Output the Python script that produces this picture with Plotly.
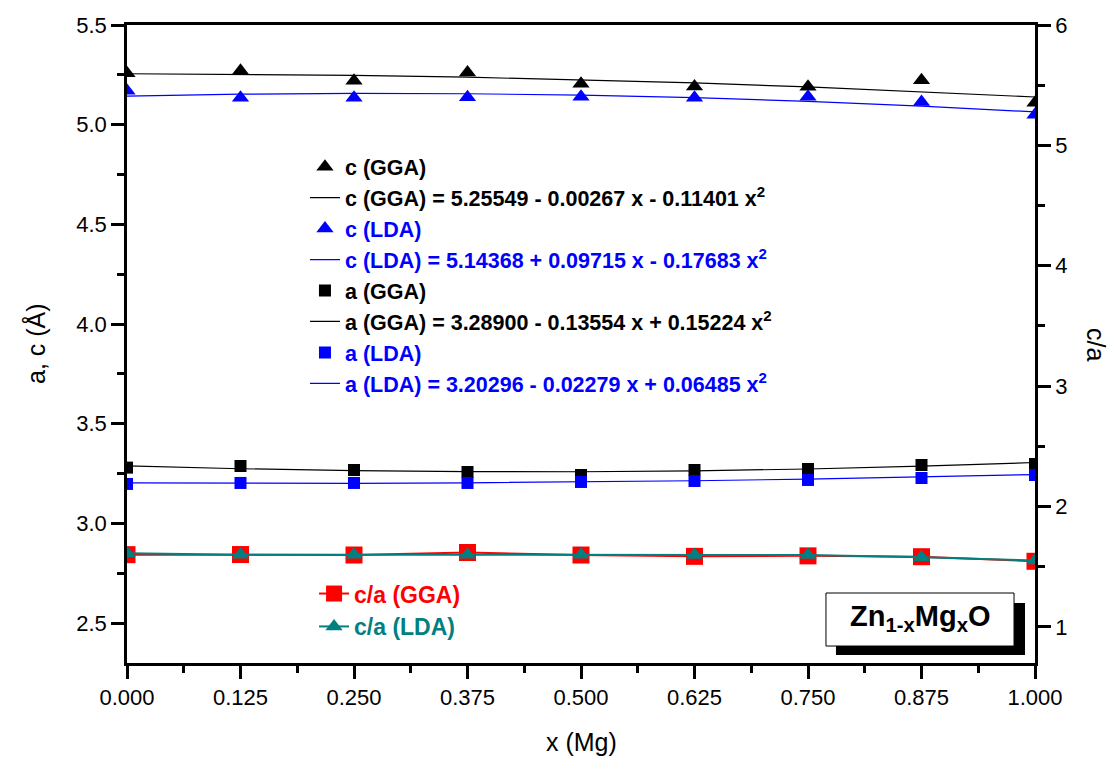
import plotly.graph_objects as go

FONT = "Arial, Liberation Sans, sans-serif"

x_mg = [0.0, 0.125, 0.25, 0.375, 0.5, 0.625, 0.75, 0.875, 1.0]
x_ticks = [0.0, 0.125, 0.25, 0.375, 0.5, 0.625, 0.75, 0.875, 1.0]
x_ticklabels = ["0.000", "0.125", "0.250", "0.375", "0.500", "0.625", "0.750", "0.875", "1.000"]

c_gga = [5.258, 5.270, 5.220, 5.262, 5.205, 5.192, 5.190, 5.223, 5.110]
c_lda = [5.170, 5.135, 5.135, 5.137, 5.140, 5.135, 5.140, 5.114, 5.050]
a_gga = [3.280, 3.288, 3.268, 3.258, 3.243, 3.268, 3.273, 3.293, 3.298]
a_lda = [3.198, 3.203, 3.203, 3.203, 3.208, 3.213, 3.218, 3.228, 3.243]

# quadratic fit curves (values of the fits printed in the legend)
c_gga_fit = [5.2555, 5.2534, 5.2477, 5.2385, 5.2257, 5.2093, 5.1894, 5.1659, 5.1388]
c_lda_fit = [5.1437, 5.1531, 5.1569, 5.1552, 5.1481, 5.1353, 5.1171, 5.0933, 5.0640]
a_gga_fit = [3.2890, 3.2744, 3.2646, 3.2596, 3.2593, 3.2638, 3.2730, 3.2870, 3.3057]
a_lda_fit = [3.2030, 3.2011, 3.2013, 3.2036, 3.2078, 3.2141, 3.2224, 3.2327, 3.2451]

ca_gga = [1.600, 1.601, 1.597, 1.618, 1.597, 1.586, 1.590, 1.583, 1.545]
ca_lda = [1.612, 1.600, 1.600, 1.600, 1.600, 1.597, 1.597, 1.578, 1.552]

BLUE = "#0000FF"
RED = "#FF0000"
TEAL = "#008080"

fig = go.Figure()

def mk(name, y, symbol, color, size, group):
    return go.Scatter(x=x_mg, y=y, mode="markers", name=name, legendgroup=group,
                      marker=dict(symbol=symbol, color=color, size=size, line=dict(width=0)))

def fit(name, y, color, group):
    return go.Scatter(x=x_mg, y=y, mode="lines", name=name, legendgroup=group,
                      line=dict(color=color, width=1.2))

fig.add_trace(fit("c (GGA) = 5.25549 - 0.00267 x - 0.11401 x<sup>2</sup>", c_gga_fit, "black", "g2"))
fig.add_trace(fit("<span style='color:#0000FF'>c (LDA) = 5.14368 + 0.09715 x - 0.17683 x<sup>2</sup></span>", c_lda_fit, BLUE, "g4"))
fig.add_trace(fit("a (GGA) = 3.28900 - 0.13554 x + 0.15224 x<sup>2</sup>", a_gga_fit, "black", "g6"))
fig.add_trace(fit("<span style='color:#0000FF'>a (LDA) = 3.20296 - 0.02279 x + 0.06485 x<sup>2</sup></span>", a_lda_fit, BLUE, "g8"))
fig.add_trace(mk("c (GGA)", c_gga, "triangle-up", "black", 15, "g1"))
fig.add_trace(mk("<span style='color:#0000FF'>c (LDA)</span>", c_lda, "triangle-up", BLUE, 15, "g3"))
fig.add_trace(mk("a (GGA)", a_gga, "square", "black", 12, "g5"))
fig.add_trace(mk("<span style='color:#0000FF'>a (LDA)</span>", a_lda, "square", BLUE, 12, "g7"))

fig.add_trace(go.Scatter(x=x_mg, y=ca_gga, mode="lines+markers", yaxis="y2", legend="legend2",
                         name="<span style='color:#FF0000'>c/a (GGA)</span>", legendgroup="h1",
                         line=dict(color=RED, width=2),
                         marker=dict(symbol="square", color=RED, size=17)))
fig.add_trace(go.Scatter(x=x_mg, y=ca_lda, mode="lines+markers", yaxis="y2", legend="legend2",
                         name="<span style='color:#008080'>c/a (LDA)</span>", legendgroup="h2",
                         line=dict(color=TEAL, width=2),
                         marker=dict(symbol="triangle-up", color=TEAL, size=15)))

order = {"g1": 1, "g2": 2, "g3": 3, "g4": 4, "g5": 5, "g6": 6, "g7": 7, "g8": 8, "h1": 1, "h2": 2}
for t in fig.data:
    t.legendrank = order[t.legendgroup]

axis_common = dict(showline=True, linecolor="black", linewidth=2.5, ticks="outside",
                   ticklen=13, tickwidth=2.5, tickcolor="black", showgrid=False, zeroline=False,
                   automargin=False,
                   tickfont=dict(family=FONT, size=22, color="black"))
minor_common = dict(ticklen=7, tickwidth=2.5, ticks="outside", tickcolor="black", showgrid=False)
title_font = dict(family=FONT, size=25, color="black")

fig.update_layout(
    width=1117, height=758,
    margin=dict(l=127, r=82, t=25, b=95, autoexpand=False),
    paper_bgcolor="white", plot_bgcolor="white",
    showlegend=True,
    xaxis=dict(range=[0, 1], tickvals=x_ticks, ticktext=x_ticklabels, mirror=True,
               minor=dict(dtick=0.0625, **minor_common), **axis_common),
    yaxis=dict(range=[2.3, 5.5], dtick=0.5, tickformat=".1f",
               minor=dict(dtick=0.25, **minor_common), **axis_common),
    yaxis2=dict(range=[0.7, 6], dtick=1, overlaying="y", side="right", tickformat="d",
                minor=dict(dtick=0.5, **minor_common), **axis_common),
    legend=dict(x=0.196, y=0.810, xanchor="left", yanchor="top", bgcolor="rgba(0,0,0,0)",
                font=dict(family=FONT, size=21.5, color="black", weight="bold"),
                tracegroupgap=0, itemsizing="trace"),
    legend2=dict(x=0.206, y=0.1425, xanchor="left", yanchor="top", bgcolor="rgba(0,0,0,0)",
                 font=dict(family=FONT, size=23, color="black", weight="bold"),
                 tracegroupgap=0, itemsizing="trace"),
)

# axis titles
fig.add_annotation(xref="paper", yref="paper", x=0.5, y=(663 - 742) / 638, xanchor="center", yanchor="middle",
                   showarrow=False, text="x (Mg)", font=title_font)
fig.add_annotation(xref="paper", yref="paper", x=(35 - 127) / 908, y=0.5, xanchor="center", yanchor="middle",
                   showarrow=False, text="a, c (Å)", textangle=-90, font=title_font)
fig.add_annotation(xref="paper", yref="paper", x=(1096 - 127) / 908, y=0.5, xanchor="center", yanchor="middle",
                   showarrow=False, text="c/a", textangle=90, font=title_font)

# Sample label box with drop shadow
fig.add_shape(type="rect", xref="paper", yref="paper", x0=0.7808, x1=0.989, y0=0.0125, y1=0.094,
              fillcolor="black", line=dict(width=0), layer="above")
fig.add_shape(type="rect", xref="paper", yref="paper", x0=0.7698, x1=0.9769, y0=0.0266, y1=0.1097,
              fillcolor="white", line=dict(color="black", width=1), layer="above")
fig.add_annotation(xref="paper", yref="paper", x=0.8733, y=0.0700, xanchor="center", yanchor="middle",
                   showarrow=False,
                   text="<b>Zn<sub>1-x</sub>Mg<sub>x</sub>O</b>",
                   font=dict(family=FONT, size=29, color="black"))

fig.write_html("out.html")
